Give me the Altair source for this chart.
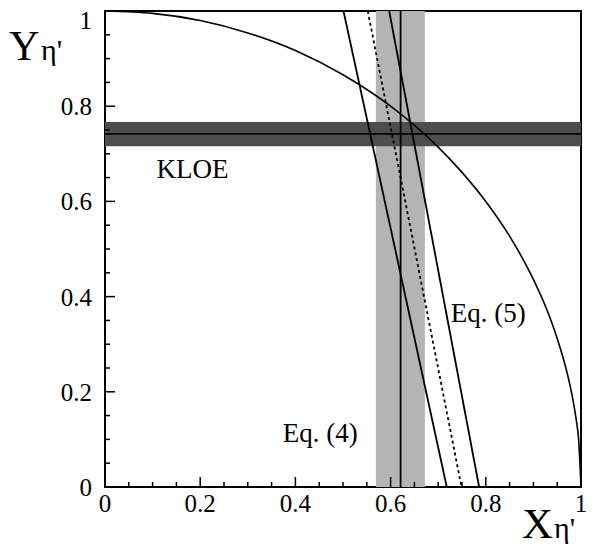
import altair as alt
import pandas as pd

# ---- data ----
circle_x = [0.0, 0.1, 0.2, 0.3, 0.4, 0.5, 0.6, 0.7, 0.75, 0.8, 0.85, 0.9, 0.93, 0.95, 0.97, 0.98, 0.99, 0.995, 1.0]
circle_y = [1.0, 0.995, 0.98, 0.954, 0.917, 0.866, 0.8, 0.714, 0.661, 0.6, 0.527, 0.436, 0.368, 0.312, 0.243, 0.199, 0.141, 0.1, 0.0]

solid_names = ["Eq. (4)", "Eq. (5)"]
solid_top_x = [0.501, 0.597]      # x where the line meets Y = 1
solid_bottom_x = [0.718, 0.786]   # x where the line meets Y = 0
dashed_top_x = [0.552]
dashed_bottom_x = [0.749]

vband_x = [0.569, 0.672]
vband_center = [0.621]
kloe_band_y = [0.716, 0.767]
kloe_center = [0.742]

major_ticks = [0.2, 0.4, 0.6, 0.8]
minor_ticks = [0.05, 0.1, 0.15, 0.25, 0.3, 0.35, 0.45, 0.5, 0.55, 0.65, 0.7, 0.75, 0.85, 0.9, 0.95]
axis_values = [0, 0.2, 0.4, 0.6, 0.8, 1]
axis_labels = ["0", "0.2", "0.4", "0.6", "0.8", "1"]

labels_text = ["KLOE", "Eq. (4)", "Eq. (5)"]
labels_x = [0.184, 0.452, 0.805]
labels_y = [0.649, 0.095, 0.347]

# ---- tables ----
circle_df = pd.DataFrame({"x": circle_x, "y": circle_y})
solid_df = pd.DataFrame({
    "name": solid_names * 2,
    "x": solid_top_x + solid_bottom_x,
    "y": [1.0] * len(solid_names) + [0.0] * len(solid_names),
})
dashed_df = pd.DataFrame({"name": ["d"] * 2, "x": dashed_top_x + dashed_bottom_x, "y": [1.0, 0.0]})
vband_df = pd.DataFrame({"x": [vband_x[0]], "x2": [vband_x[1]], "y": [0.0], "y2": [1.0]})
hband_df = pd.DataFrame({"x": [0.0], "x2": [1.0], "y": [kloe_band_y[0]], "y2": [kloe_band_y[1]]})
vline_df = pd.DataFrame({"x": vband_center})
hline_df = pd.DataFrame({"y": kloe_center})
major_df = pd.DataFrame({"t": major_ticks})
minor_df = pd.DataFrame({"t": minor_ticks})
ticklab_df = pd.DataFrame({"v": axis_values, "lab": axis_labels})
text_df = pd.DataFrame({"label": labels_text, "x": labels_x, "y": labels_y})

FONT = "Liberation Serif"
W = 476
H = 476
xs = alt.Scale(domain=[0, 1], nice=False, zero=False)
ys = alt.Scale(domain=[0, 1], nice=False, zero=False)

vband = alt.Chart(vband_df).mark_rect(color="#b4b4b4").encode(
    x=alt.X("x:Q", scale=xs, axis=None), x2="x2:Q",
    y=alt.Y("y:Q", scale=ys, axis=None), y2="y2:Q")
hband = alt.Chart(hband_df).mark_rect(color="#4d4d4d").encode(
    x=alt.X("x:Q", scale=xs), x2="x2:Q", y=alt.Y("y:Q", scale=ys), y2="y2:Q")
vline = alt.Chart(vline_df).mark_rule(color="black", strokeWidth=1.8).encode(x=alt.X("x:Q", scale=xs))
hline = alt.Chart(hline_df).mark_rule(color="black", strokeWidth=1.8).encode(y=alt.Y("y:Q", scale=ys))

circle = alt.Chart(circle_df).mark_line(color="black", strokeWidth=1.6, interpolate="monotone").encode(
    x=alt.X("x:Q", scale=xs), y=alt.Y("y:Q", scale=ys))
solid = alt.Chart(solid_df).mark_line(color="black", strokeWidth=1.8).encode(
    x=alt.X("x:Q", scale=xs), y=alt.Y("y:Q", scale=ys), detail="name:N")
dashed = alt.Chart(dashed_df).mark_line(color="black", strokeWidth=1.8, strokeDash=[3, 3]).encode(
    x=alt.X("x:Q", scale=xs), y=alt.Y("y:Q", scale=ys), detail="name:N")

xmajor = alt.Chart(major_df).mark_rule(color="black", strokeWidth=1.5).encode(
    x=alt.X("t:Q", scale=xs), y=alt.value(H), y2=alt.value(H - 10))
xminor = alt.Chart(minor_df).mark_rule(color="black", strokeWidth=1.5).encode(
    x=alt.X("t:Q", scale=xs), y=alt.value(H), y2=alt.value(H - 5))
ymajor = alt.Chart(major_df).mark_rule(color="black", strokeWidth=1.5).encode(
    y=alt.Y("t:Q", scale=ys), x=alt.value(0), x2=alt.value(10))
yminor = alt.Chart(minor_df).mark_rule(color="black", strokeWidth=1.5).encode(
    y=alt.Y("t:Q", scale=ys), x=alt.value(0), x2=alt.value(5))

# tick labels drawn as text so that the serif font is used
xlabels = alt.Chart(ticklab_df).mark_text(font=FONT, fontSize=25, color="black",
                                          align="center", baseline="alphabetic").encode(
    x=alt.X("v:Q", scale=xs), y=alt.value(H + 25), text="lab:N")
ylabels = alt.Chart(ticklab_df).transform_filter("datum.v < 1").mark_text(
    font=FONT, fontSize=25, color="black", align="right", baseline="middle", dy=1).encode(
    y=alt.Y("v:Q", scale=ys), x=alt.value(-13), text="lab:N")
ylabel_top = alt.Chart(ticklab_df).transform_filter("datum.v == 1").mark_text(
    font=FONT, fontSize=25, color="black", align="right", baseline="middle", dy=10).encode(
    y=alt.Y("v:Q", scale=ys), x=alt.value(-13), text="lab:N")

texts = alt.Chart(text_df).mark_text(font=FONT, fontSize=27, color="black",
                                      align="center", baseline="alphabetic").encode(
    x=alt.X("x:Q", scale=xs), y=alt.Y("y:Q", scale=ys), text="label:N")

title_df = pd.DataFrame({"a": [0]})
ytitle = alt.Chart(title_df).mark_text(text="Y", font=FONT, fontSize=42, color="black",
                                       align="left", baseline="alphabetic").encode(
    x=alt.value(-96), y=alt.value(49))
ysub = alt.Chart(title_df).mark_text(text="η'", font=FONT, fontSize=30, color="black",
                                     align="left", baseline="alphabetic").encode(
    x=alt.value(-64), y=alt.value(49))
xtitle = alt.Chart(title_df).mark_text(text="X", font=FONT, fontSize=43, color="black",
                                       align="left", baseline="alphabetic").encode(
    x=alt.value(417), y=alt.value(527))
xsub = alt.Chart(title_df).mark_text(text="η'", font=FONT, fontSize=30, color="black",
                                     align="left", baseline="alphabetic").encode(
    x=alt.value(449), y=alt.value(527))

chart = alt.layer(
    vband, hband, vline, hline, circle, solid, dashed,
    xmajor, xminor, ymajor, yminor, xlabels, ylabels, ylabel_top,
    texts, ytitle, ysub, xtitle, xsub
).properties(
    width=W, height=H,
    autosize=alt.AutoSizeParams(type="none"),
    padding={"left": 97, "top": 3, "right": 15, "bottom": 60},
).configure_view(
    stroke="black", strokeWidth=2
)

chart.save("out.html", embed_options={"renderer": "svg", "actions": False})
